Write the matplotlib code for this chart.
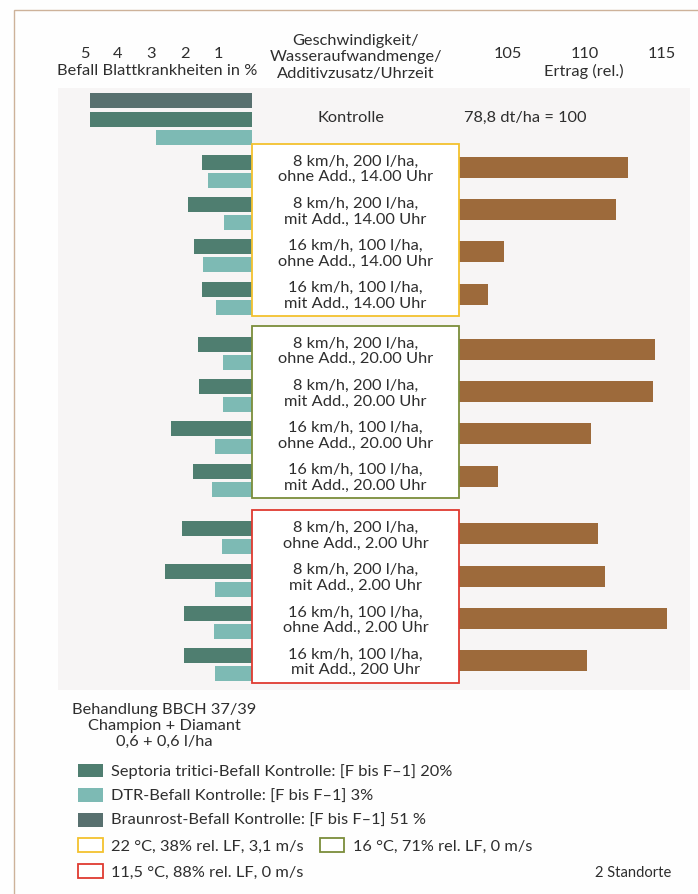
import matplotlib
matplotlib.use("Agg")
import matplotlib.pyplot as plt
from matplotlib.patches import Rectangle, Patch

plt.rcParams['font.family'] = ['Lato', 'DejaVu Sans']

# ---------------- data ----------------
treatments = [
    "8 km/h, 200 l/ha,\nohne Add., 14.00 Uhr",
    "8 km/h, 200 l/ha,\nmit Add., 14.00 Uhr",
    "16 km/h, 100 l/ha,\nohne Add., 14.00 Uhr",
    "16 km/h, 100 l/ha,\nmit Add., 14.00 Uhr",
    "8 km/h, 200 l/ha,\nohne Add., 20.00 Uhr",
    "8 km/h, 200 l/ha,\nmit Add., 20.00 Uhr",
    "16 km/h, 100 l/ha,\nohne Add., 20.00 Uhr",
    "16 km/h, 100 l/ha,\nmit Add., 20.00 Uhr",
    "8 km/h, 200 l/ha,\nohne Add., 2.00 Uhr",
    "8 km/h, 200 l/ha,\nmit Add., 2.00 Uhr",
    "16 km/h, 100 l/ha,\nohne Add., 2.00 Uhr",
    "16 km/h, 100 l/ha,\nmit Add., 200 Uhr",
]
septoria = [1.49, 1.91, 1.73, 1.49, 1.61, 1.58, 2.42, 1.76, 2.09, 2.60, 2.03, 2.03]
dtr      = [1.31, 0.84, 1.46, 1.07, 0.87, 0.87, 1.10, 1.19, 0.90, 1.10, 1.13, 1.10]
ertrag   = [112.8, 112.0, 104.7, 103.7, 114.5, 114.4, 110.4, 104.3, 110.8, 111.3, 115.3, 110.1]

kontrolle_label = "Kontrolle"
kontrolle_braunrost = 4.84
kontrolle_septoria = 4.84
kontrolle_dtr = 2.87
kontrolle_ertrag_text = "78,8 dt/ha = 100"

left_ticks = [5, 4, 3, 2, 1]
right_ticks = [105, 110, 115]

group_labels = ["22 °C, 38% rel. LF, 3,1 m/s",
                "16 °C, 71% rel. LF, 0 m/s",
                "11,5 °C, 88% rel. LF, 0 m/s"]
legend_bars = ["Septoria tritici-Befall Kontrolle: [F bis F–1] 20%",
               "DTR-Befall Kontrolle: [F bis F–1] 3%",
               "Braunrost-Befall Kontrolle: [F bis F–1] 51 %"]

# ---------------- style ----------------
C_SEPT = "#4f7e70"
C_DTR = "#7dbab4"
C_BRAUN = "#58706f"
C_ERTRAG = "#9d6a3b"
C_GROUPS = ["#f3c22e", "#7b8d3a", "#df3a30"]
TXT = "#2e2e2e"
FS = 11.8

W, H = 698, 894
fig = plt.figure(figsize=(W / 100, H / 100), dpi=100)
fig.patch.set_facecolor("#fefefe")

def fx(px):
    return px / W

def fy(py):
    return 1 - py / H

# page frame (left and top edges visible)
fig.patches.append(Rectangle((fx(14), -1), 2, fy(10) + 1, transform=fig.transFigure,
                             fill=False, edgecolor="#cdb29a", lw=1.0, zorder=0))

TOP, BOT = 88, 690
PITCH = 42.2
n_rows = (BOT - TOP) / PITCH
ax_bottom = fy(BOT)
ax_height = (BOT - TOP) / H

# background panel
bg = fig.add_axes([fx(58), ax_bottom, fx(690) - fx(58), ax_height], zorder=0)
bg.set_facecolor("#f7f5f5")
for s in bg.spines.values():
    s.set_visible(False)
bg.set_xticks([]); bg.set_yticks([])

# layout positions (in row units)
kontrolle_pos = 0.746
group_starts = [1.98, 6.29, 10.66]
pos = [group_starts[g] + j for g in range(3) for j in range(4)]

LX0, LX1 = 60, 252
PX_PER_PCT = 33.5
ax_l = fig.add_axes([fx(LX0), ax_bottom, fx(LX1) - fx(LX0), ax_height], zorder=2)
ax_l.set_xlim((LX1 - LX0) / PX_PER_PCT, 0)

RX0, RX1 = 459, 690
PX_PER_UNIT = 15.4
R_LEFT = 101.8
ax_r = fig.add_axes([fx(RX0), ax_bottom, fx(RX1) - fx(RX0), ax_height], zorder=2)
ax_r.set_xlim(R_LEFT, R_LEFT + (RX1 - RX0) / PX_PER_UNIT)

ax_m = fig.add_axes([fx(LX1), ax_bottom, fx(RX0) - fx(LX1), ax_height], zorder=3)
ax_m.set_xlim(0, 1)

for a in (ax_l, ax_r, ax_m):
    a.set_ylim(n_rows, 0)
    a.patch.set_alpha(0)
    for s in a.spines.values():
        s.set_visible(False)
    a.set_yticks([])

ax_m.set_xticks([])

bh = 15 / PITCH
off = 9 / PITCH
# left bars
ax_l.barh([p - off for p in pos], septoria, height=bh, color=C_SEPT, left=0)
ax_l.barh([p + off for p in pos], dtr, height=bh, color=C_DTR, left=0)
ax_l.barh(kontrolle_pos - 19 / PITCH, kontrolle_braunrost, height=bh, color=C_BRAUN)
ax_l.barh(kontrolle_pos, kontrolle_septoria, height=bh, color=C_SEPT)
ax_l.barh(kontrolle_pos + 18 / PITCH, kontrolle_dtr, height=bh, color=C_DTR)

# right bars
ax_r.barh([p - 4 / PITCH for p in pos], [v - 100 for v in ertrag], left=100,
          height=21 / PITCH, color=C_ERTRAG)

# ticks on top
ax_l.xaxis.tick_top()
ax_l.set_xticks(left_ticks)
ax_l.set_xticklabels([str(t) for t in left_ticks])
ax_l.tick_params(axis="x", length=0, pad=19.5, labelsize=FS, labelcolor=TXT)
ax_r.xaxis.tick_top()
ax_r.set_xticks(right_ticks)
ax_r.set_xticklabels([str(t) for t in right_ticks])
ax_r.tick_params(axis="x", length=0, pad=19.5, labelsize=FS, labelcolor=TXT)

ax_l.text(0.505, 1 + (TOP - 71) / (BOT - TOP), "Befall Blattkrankheiten in %",
          transform=ax_l.transAxes, ha="center", va="center", fontsize=FS, color=TXT)
ax_r.text((584 - RX0) / (RX1 - RX0), 1 + (TOP - 71) / (BOT - TOP), "Ertrag (rel.)",
          transform=ax_r.transAxes, ha="center", va="center", fontsize=FS, color=TXT)
ax_m.text(0.5, 1 + (TOP - 57.5) / (BOT - TOP), "Geschwindigkeit/\nWasseraufwandmenge/\nAdditivzusatz/Uhrzeit",
          transform=ax_m.transAxes, ha="center", va="center", fontsize=FS, color=TXT,
          linespacing=1.2)

# Kontrolle
ax_m.text(0.48, kontrolle_pos - 1.5 / PITCH, kontrolle_label, ha="center", va="center",
          fontsize=FS, color=TXT)
ax_r.text((464 - RX0) / (RX1 - RX0), kontrolle_pos - 1.5 / PITCH, kontrolle_ertrag_text,
          transform=ax_r.get_yaxis_transform(), ha="left", va="center", fontsize=FS, color=TXT)

# boxes and treatment labels
for g in range(3):
    top = group_starts[g] - 0.65
    bottom = group_starts[g] + 3.43
    ax_m.add_patch(Rectangle((0, top), 1, bottom - top, facecolor="white",
                             edgecolor=C_GROUPS[g], lw=1.3, clip_on=False, zorder=1))
for p, lab in zip(pos, treatments):
    ax_m.text(0.5, p - 2 / PITCH, lab, ha="center", va="center", fontsize=FS,
              color=TXT, linespacing=1.15, zorder=3)

# Treatment note
fig.text(fx(164), fy(726), "Behandlung BBCH 37/39\nChampion + Diamant\n0,6 + 0,6 l/ha",
         ha="center", va="center", fontsize=FS, color=TXT, linespacing=1.2)

# legends
common = dict(frameon=False, fontsize=FS, handlelength=1.5, handleheight=0.92,
              handletextpad=0.5, borderpad=0, borderaxespad=0, labelcolor=TXT)
h1 = [Patch(facecolor=c, edgecolor="none") for c in (C_SEPT, C_DTR, C_BRAUN)]
leg1 = fig.legend(h1, legend_bars, loc="center left", bbox_to_anchor=(fx(78), fy(796)),
                  labelspacing=0.55, **common)
h2 = [Patch(facecolor="white", edgecolor=C_GROUPS[0], lw=1.3),
      Patch(facecolor="white", edgecolor=C_GROUPS[1], lw=1.3)]
leg2 = fig.legend(h2, group_labels[:2], loc="center left", bbox_to_anchor=(fx(78), fy(846)),
                  ncol=2, columnspacing=1.0, **common)
h3 = [Patch(facecolor="white", edgecolor=C_GROUPS[2], lw=1.3)]
leg3 = fig.legend(h3, group_labels[2:], loc="center left", bbox_to_anchor=(fx(78), fy(872)),
                  **common)

fig.text(fx(671), fy(873), "2 Standorte", ha="right", va="center", fontsize=10.6, color=TXT)

fig.savefig("out.png", dpi=100, facecolor=fig.get_facecolor())
